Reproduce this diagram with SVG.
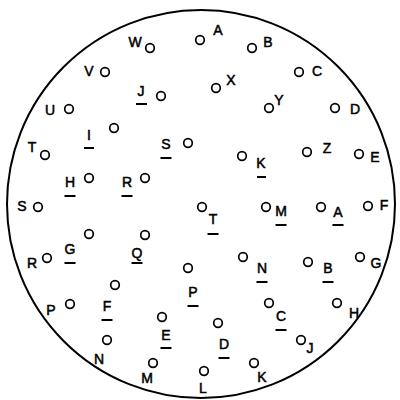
<svg xmlns="http://www.w3.org/2000/svg" width="400" height="400" viewBox="0 0 400 400">
<style>
.o{fill:none;stroke:#000;stroke-width:2}
.p{fill:none;stroke:#000;stroke-width:1.7}
.t{font-family:"Liberation Sans",Arial,sans-serif;font-size:14px;text-anchor:middle;fill:#000;stroke:#000;stroke-width:0.5}
.u{stroke:#000;stroke-width:2}
</style>
<rect width="400" height="400" fill="#fff"/>
<ellipse class="o" cx="201" cy="204" rx="194" ry="194"/>
<g id="connectors"/>
<g id="pinA"><circle class="p" cx="200" cy="40" r="4.3"/><text class="t" x="218" y="35">A</text></g>
<g id="pinB"><circle class="p" cx="252" cy="48" r="4.3"/><text class="t" x="268" y="47">B</text></g>
<g id="pinC"><circle class="p" cx="299" cy="72" r="4.3"/><text class="t" x="317" y="76">C</text></g>
<g id="pinD"><circle class="p" cx="335" cy="108" r="4.3"/><text class="t" x="355" y="114">D</text></g>
<g id="pinE"><circle class="p" cx="359" cy="154" r="4.3"/><text class="t" x="375" y="162">E</text></g>
<g id="pinF"><circle class="p" cx="368" cy="206" r="4.3"/><text class="t" x="384" y="210">F</text></g>
<g id="pinG"><circle class="p" cx="360" cy="257" r="4.3"/><text class="t" x="376" y="268">G</text></g>
<g id="pinH"><circle class="p" cx="337" cy="303" r="4.3"/><text class="t" x="354" y="318">H</text></g>
<g id="pinJ"><circle class="p" cx="301" cy="340" r="4.3"/><text class="t" x="310" y="353">J</text></g>
<g id="pinK"><circle class="p" cx="254" cy="363" r="4.3"/><text class="t" x="262" y="382">K</text></g>
<g id="pinL"><circle class="p" cx="204" cy="371" r="4.3"/><text class="t" x="203" y="393">L</text></g>
<g id="pinM"><circle class="p" cx="153" cy="363" r="4.3"/><text class="t" x="147" y="383">M</text></g>
<g id="pinN"><circle class="p" cx="107" cy="340" r="4.3"/><text class="t" x="99" y="364">N</text></g>
<g id="pinP"><circle class="p" cx="70" cy="304" r="4.3"/><text class="t" x="51" y="315">P</text></g>
<g id="pinR"><circle class="p" cx="47" cy="258" r="4.3"/><text class="t" x="32" y="268">R</text></g>
<g id="pinS"><circle class="p" cx="38" cy="207" r="4.3"/><text class="t" x="22" y="211">S</text></g>
<g id="pinT"><circle class="p" cx="45" cy="155" r="4.3"/><text class="t" x="32" y="152">T</text></g>
<g id="pinU"><circle class="p" cx="69" cy="109" r="4.3"/><text class="t" x="50" y="115">U</text></g>
<g id="pinV"><circle class="p" cx="105" cy="72" r="4.3"/><text class="t" x="89" y="76">V</text></g>
<g id="pinW"><circle class="p" cx="150" cy="48" r="4.3"/><text class="t" x="135" y="47">W</text></g>
<g id="pinX"><circle class="p" cx="216" cy="88" r="4.3"/><text class="t" x="231" y="85">X</text></g>
<g id="pinY"><circle class="p" cx="269" cy="108" r="4.3"/><text class="t" x="279" y="105">Y</text></g>
<g id="pinZ"><circle class="p" cx="307" cy="152" r="4.3"/><text class="t" x="327" y="153">Z</text></g>
<g id="pinA2"><circle class="p" cx="321" cy="207" r="4.3"/><text class="t" x="338" y="217">A</text><line class="u" x1="332.5" y1="225" x2="343.5" y2="225"/></g>
<g id="pinB2"><circle class="p" cx="308" cy="262" r="4.3"/><text class="t" x="328" y="273">B</text><line class="u" x1="322.5" y1="282" x2="333.5" y2="282"/></g>
<g id="pinC2"><circle class="p" cx="269" cy="303" r="4.3"/><text class="t" x="281" y="321">C</text><line class="u" x1="275.5" y1="330" x2="286.5" y2="330"/></g>
<g id="pinD2"><circle class="p" cx="218" cy="323" r="4.3"/><text class="t" x="224" y="349">D</text><line class="u" x1="218.5" y1="358" x2="229.5" y2="358"/></g>
<g id="pinE2"><circle class="p" cx="162" cy="317" r="4.3"/><text class="t" x="166" y="340">E</text><line class="u" x1="160.5" y1="348" x2="171.5" y2="348"/></g>
<g id="pinF2"><circle class="p" cx="115" cy="285" r="4.3"/><text class="t" x="107" y="311">F</text><line class="u" x1="101.5" y1="320" x2="112.5" y2="320"/></g>
<g id="pinG2"><circle class="p" cx="89" cy="234" r="4.3"/><text class="t" x="70" y="254">G</text><line class="u" x1="64.5" y1="263" x2="75.5" y2="263"/></g>
<g id="pinH2"><circle class="p" cx="89" cy="178" r="4.3"/><text class="t" x="70" y="187">H</text><line class="u" x1="64.5" y1="196" x2="75.5" y2="196"/></g>
<g id="pinI2"><circle class="p" cx="114" cy="128" r="4.3"/><text class="t" x="89" y="140">I</text><line class="u" x1="84" y1="148" x2="94" y2="148"/></g>
<g id="pinJ2"><circle class="p" cx="161" cy="96" r="4.3"/><text class="t" x="141" y="96">J</text><line class="u" x1="136" y1="104" x2="147" y2="104"/></g>
<g id="pinK2"><circle class="p" cx="242" cy="156" r="4.3"/><text class="t" x="261" y="168">K</text><line class="u" x1="257" y1="177" x2="266" y2="177"/></g>
<g id="pinM2"><circle class="p" cx="266" cy="207" r="4.3"/><text class="t" x="281" y="216">M</text><line class="u" x1="275.5" y1="225" x2="286.5" y2="225"/></g>
<g id="pinN2"><circle class="p" cx="243" cy="257" r="4.3"/><text class="t" x="262" y="273">N</text><line class="u" x1="256.5" y1="282" x2="267.5" y2="282"/></g>
<g id="pinP2"><circle class="p" cx="188" cy="268" r="4.3"/><text class="t" x="193" y="297">P</text><line class="u" x1="187.5" y1="306" x2="198.5" y2="306"/></g>
<g id="pinQ2"><circle class="p" cx="145" cy="235" r="4.3"/><text class="t" x="137" y="258">Q</text><line class="u" x1="131.5" y1="263" x2="142.5" y2="263"/></g>
<g id="pinR2"><circle class="p" cx="145" cy="178" r="4.3"/><text class="t" x="127" y="187">R</text><line class="u" x1="121.5" y1="196" x2="132.5" y2="196"/></g>
<g id="pinS2"><circle class="p" cx="188" cy="143" r="4.3"/><text class="t" x="166" y="149">S</text><line class="u" x1="160.5" y1="158" x2="171.5" y2="158"/></g>
<g id="pinT2"><circle class="p" cx="202" cy="207" r="4.3"/><text class="t" x="213" y="224">T</text><line class="u" x1="207.5" y1="234" x2="218.5" y2="234"/></g>
</svg>
